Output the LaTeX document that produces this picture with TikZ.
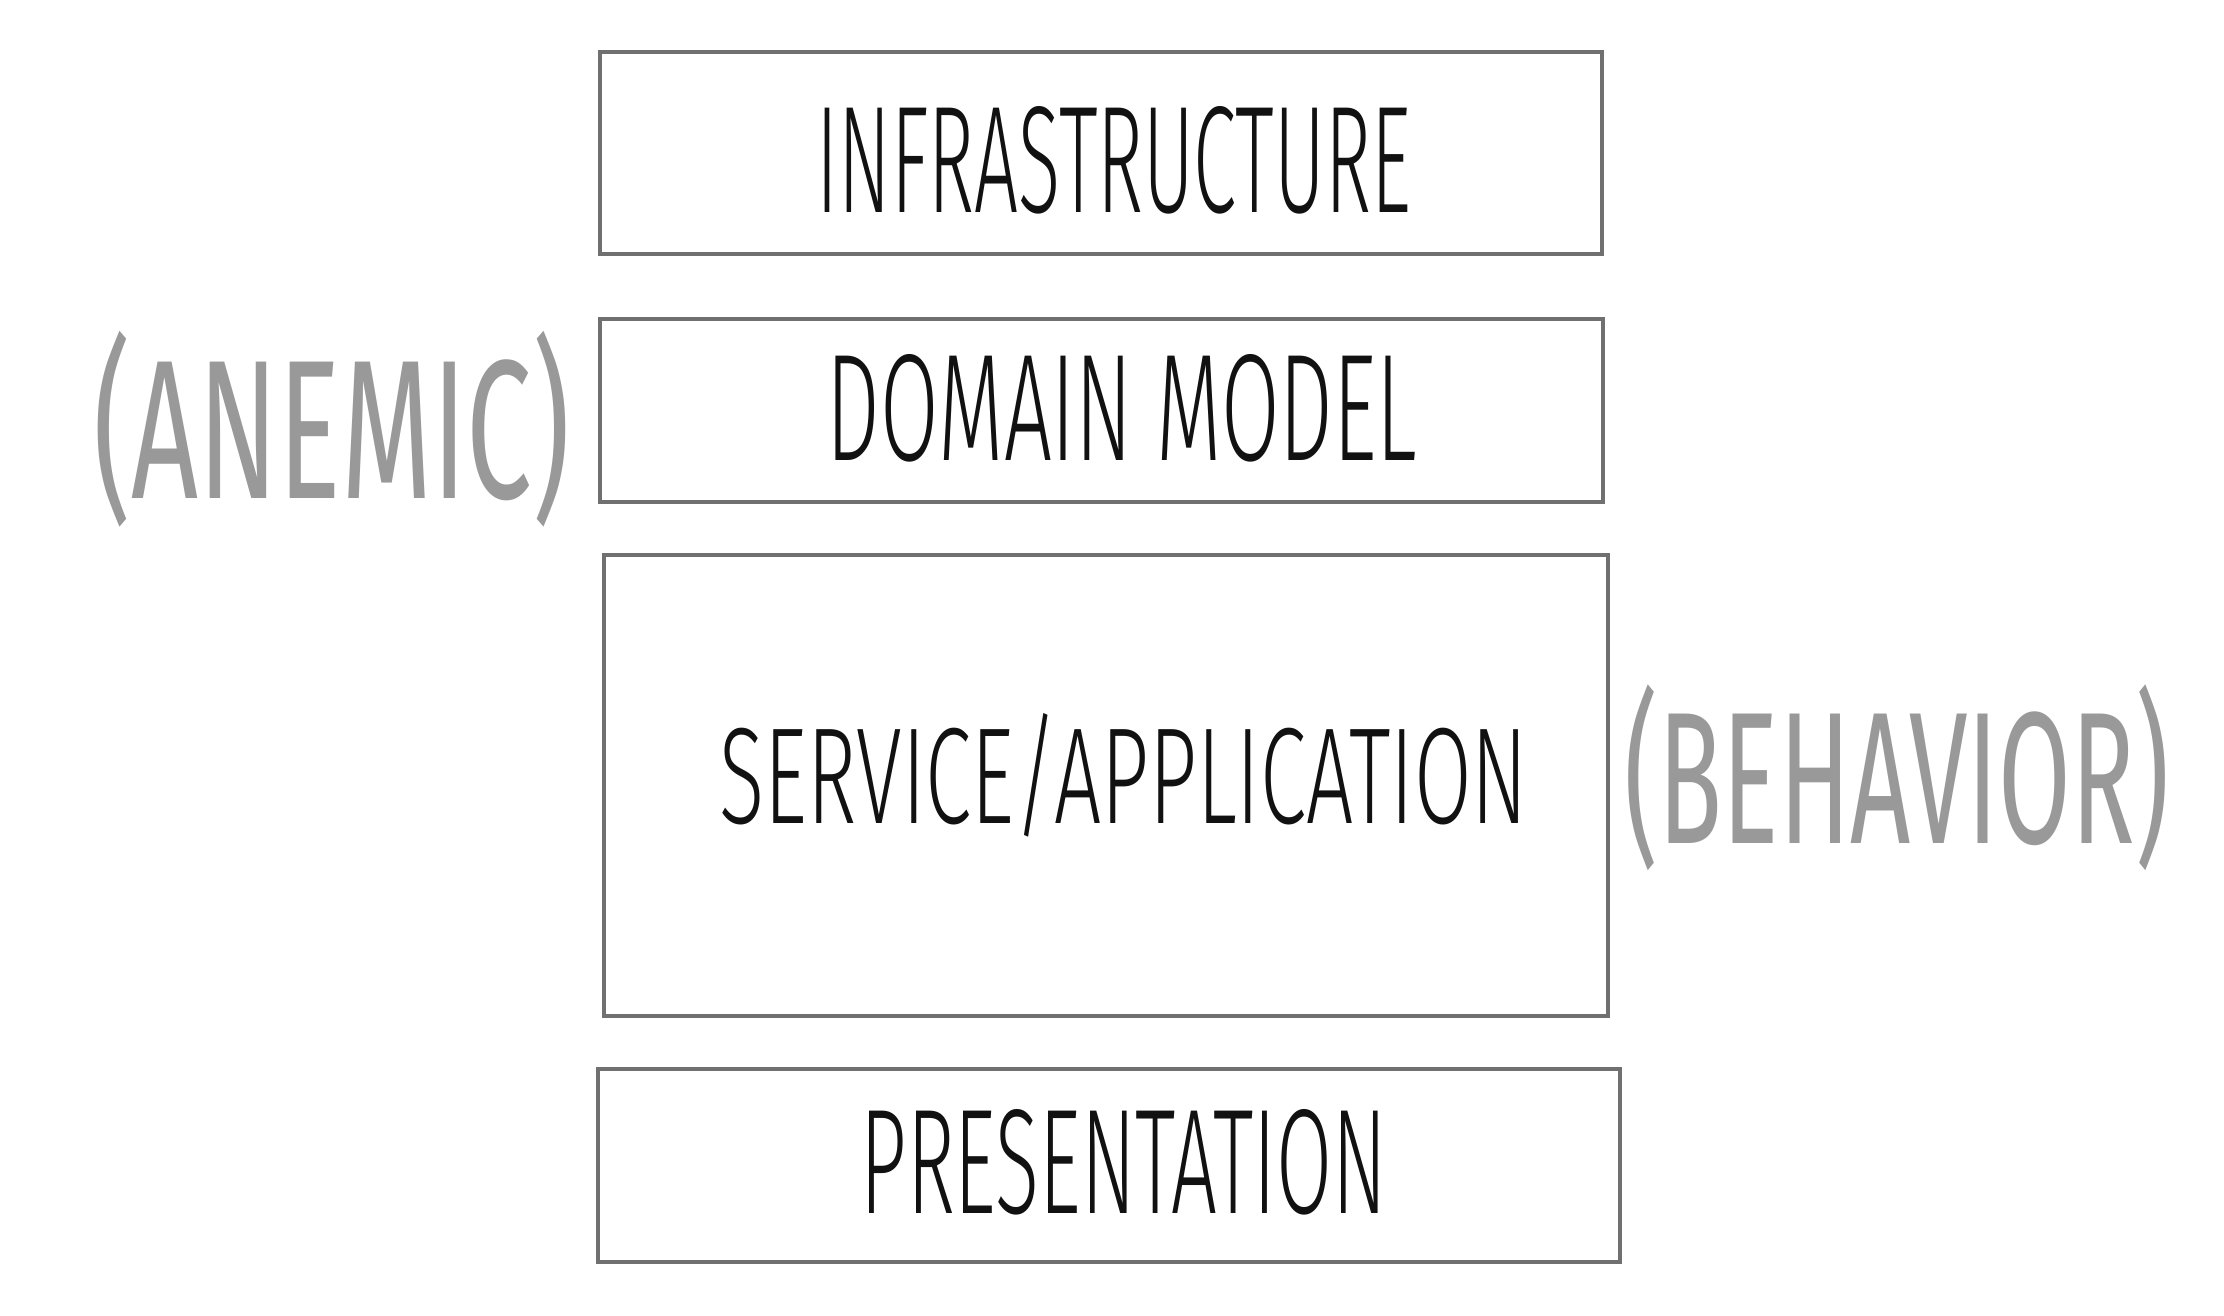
\documentclass[tikz,border=0pt]{standalone}
\usepackage{fontspec}
\usepackage{graphicx}
\newfontfamily\handfont{Fira Sans Light}
\newfontfamily\notefont{Fira Sans}
\definecolor{boxline}{HTML}{707070}
\definecolor{inkblack}{HTML}{111111}
\definecolor{notegray}{HTML}{999999}
\begin{document}
\begin{tikzpicture}[x=0.5pt,y=-0.5pt,
  layerbox/.style={draw=boxline, line width=1.6pt, rectangle, inner sep=0pt},
  layertext/.style={inner sep=0pt, text=inkblack, font=\handfont},
  notetext/.style={inner sep=0pt, text=notegray, font=\notefont}]
\path[use as bounding box] (0,0) rectangle (2224,1316);
% boxes
\node[layerbox, minimum width=501pt, minimum height=101pt] (infra) at (1101,153) {};
\node[layerbox, minimum width=501.5pt, minimum height=91.5pt] (domain) at (1101.5,410.5) {};
\node[layerbox, minimum width=502pt, minimum height=230.5pt] (service) at (1106,785.5) {};
\node[layerbox, minimum width=511pt, minimum height=96.5pt] (present) at (1109,1165.5) {};
% texts
\node[layertext] (infratext) at (1114,160) {\resizebox{297pt}{53pt}{INFRASTRUCTURE}};
\node[layertext] (domaintext) at (1122,408) {\resizebox{295pt}{53pt}{DOMAIN MODEL}};
\node[layertext] (servicetext) at (1124,775) {\resizebox{404pt}{55pt}{SERVICE/APPLICATION}};
\node[layertext] (presenttext) at (1124,1162) {\resizebox{263pt}{52pt}{PRESENTATION}};
% annotations
\node[notetext] (anemic) at (332,429) {\resizebox*{238pt}{98pt}{(ANEMIC)}};
\node[notetext] (behavior) at (1897,778) {\resizebox*{272pt}{93pt}{(BEHAVIOR)}};
\end{tikzpicture}
\end{document}
